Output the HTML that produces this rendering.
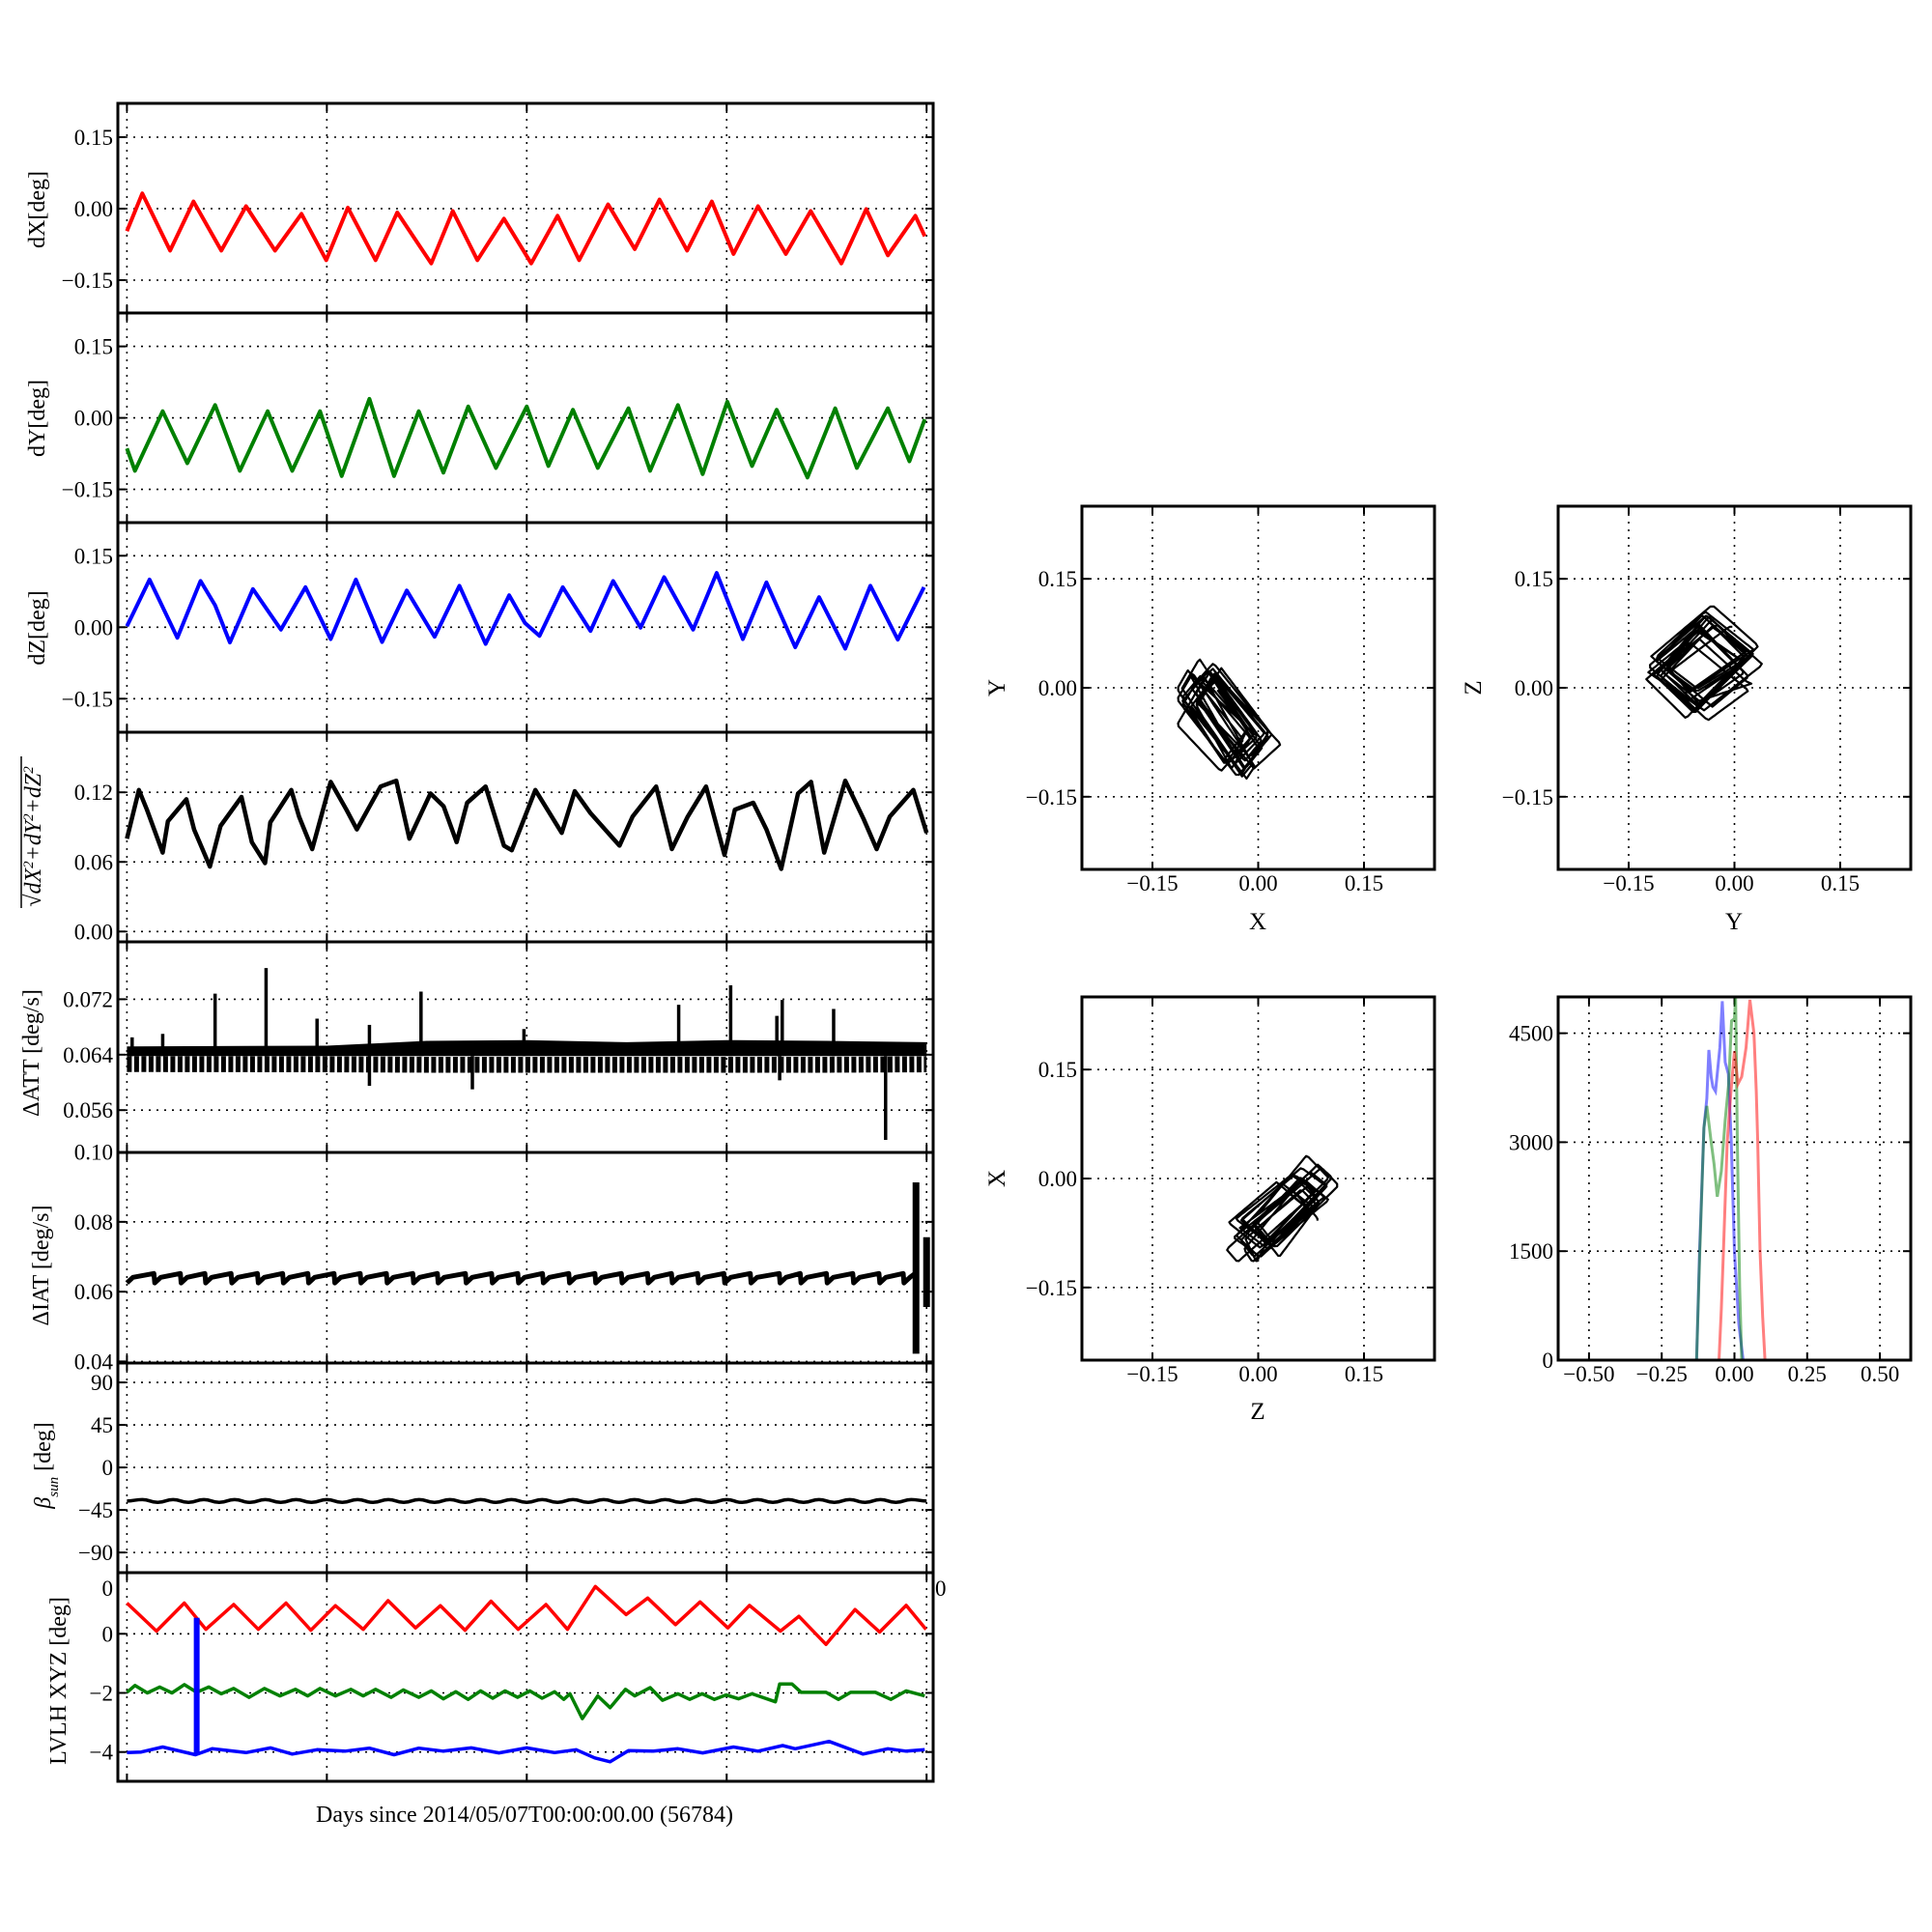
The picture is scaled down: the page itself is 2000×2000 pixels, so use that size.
<!DOCTYPE html>
<html><head><meta charset="utf-8"><style>
html,body{margin:0;padding:0;background:#fff}
svg{display:block}
text{font-family:"Liberation Serif",serif;fill:#000}
</style></head><body>
<svg id="fig" xmlns="http://www.w3.org/2000/svg" width="2000" height="2000" viewBox="0 0 2000 2000">
<rect width="2000" height="2000" fill="#fff"/>
</svg>
<script>
// ---------- DATA ----------
const dxT=[0,.077,.216,.333,.472,.596,.741,.873,.997,1.105,1.244,1.352,1.522,1.63,1.753,1.886,2.022,2.154,2.262,2.407,2.54,2.664,2.802,2.926,3.034,3.157,3.296,3.42,3.574,3.698,3.806,3.944,3.991];
const dxV=[-.047,.032,-.088,.015,-.088,.005,-.088,-.011,-.108,.002,-.108,-.008,-.115,-.005,-.108,-.021,-.115,-.015,-.108,.009,-.085,.019,-.088,.015,-.095,.005,-.095,-.005,-.115,-.001,-.098,-.015,-.058];
const dyT=[0,.04,.179,.302,.441,.565,.704,.827,.966,1.074,1.213,1.336,1.46,1.583,1.707,1.846,2.0,2.108,2.231,2.355,2.509,2.617,2.756,2.88,3.003,3.127,3.25,3.404,3.543,3.651,3.806,3.914,3.991];
const dyV=[-.064,-.111,.014,-.095,.027,-.111,.014,-.111,.014,-.122,.04,-.122,.014,-.115,.024,-.105,.024,-.101,.017,-.105,.02,-.111,.027,-.118,.034,-.101,.017,-.125,.02,-.105,.02,-.091,-.003];
const dzT=[0,.113,.252,.368,.441,.515,.63,.77,.893,1.019,1.145,1.276,1.4,1.539,1.663,1.794,1.912,1.991,2.064,2.18,2.319,2.432,2.569,2.687,2.832,2.95,3.081,3.199,3.343,3.462,3.593,3.719,3.856,3.987];
const dzV=[.002,.1,-.022,.097,.046,-.032,.08,-.005,.084,-.025,.1,-.031,.077,-.02,.087,-.035,.067,.009,-.018,.084,-.008,.097,-.001,.105,-.005,.114,-.025,.094,-.042,.063,-.045,.087,-.026,.084];
const magT=[0,.06,.1,.179,.205,.297,.336,.415,.468,.573,.625,.691,.717,.822,.861,.927,1.019,1.098,1.15,1.269,1.347,1.413,1.518,1.584,1.649,1.702,1.794,1.886,1.925,2.043,2.175,2.24,2.319,2.464,2.529,2.647,2.726,2.805,2.897,2.989,3.041,3.133,3.199,3.273,3.357,3.422,3.488,3.593,3.685,3.75,3.816,3.934,4.0];
const magV=[.08,.122,.105,.068,.095,.114,.088,.056,.091,.116,.077,.059,.094,.122,.099,.071,.129,.105,.088,.125,.13,.08,.119,.108,.077,.111,.125,.074,.07,.122,.085,.121,.102,.074,.099,.125,.071,.099,.125,.066,.105,.111,.088,.054,.119,.129,.068,.13,.097,.071,.099,.122,.085];
const attBandT=[0,1,1.5,2,2.5,3,3.5,4];
const attUpper=[.0652,.0653,.0660,.0661,.0658,.0661,.0660,.0658];
const attMid=[.0638,.0638,.0638,.0638,.0638,.0638,.0638,.0638];
const attLower=[.0615,.0614,.0613,.0613,.0613,.0613,.0613,.0614];
const attSpikeT=[.026,.179,.441,.696,.951,1.213,1.471,1.986,2.76,3.02,3.251,3.278,3.535,1.213,1.728,3.265,3.795];
const attSpikeV=[.0665,.067,.0728,.0765,.0692,.0683,.0731,.0677,.0712,.074,.0696,.0719,.0706,.0595,.059,.0603,.0517];
const iatTeeth=[0,.139,.271,.394,.525,.657,.783,.909,1.04,1.171,1.302,1.434,1.557,1.697,1.828,1.959,2.083,2.214,2.345,2.477,2.608,2.728,2.859,2.99,3.122,3.267,3.372,3.503,3.635,3.766,3.887];
const iatLo=[.0625];
const iatHi=[.0652];
const iatBurstT=[3.947,4.0];
const iatBurstMax=[.0913,.0756];
const iatBurstMin=[.0422,.0556];
const betaV=[-35.5,-34,-37,-34,-37,-34,-37,-34,-37,-34,-37,-34,-37,-34,-37,-34,-37,-34,-37,-34,-37,-34,-37,-34,-37,-34,-37,-34,-37,-34,-37,-34,-37,-34,-37,-34,-37,-34,-37,-34,-37,-34,-37,-34,-37,-34,-37,-34,-37,-34,-37,-34,-35.5];
const lvT_red=[0,.148,.287,.395,.534,.657,.796,.92,1.043,1.182,1.306,1.444,1.568,1.691,1.821,1.957,2.096,2.204,2.343,2.497,2.605,2.744,2.867,3.006,3.114,3.269,3.361,3.497,3.642,3.765,3.898,3.997];
const lvV_red=[1.04,.09,1.04,.15,.99,.15,1.04,.12,.95,.15,1.12,.2,.95,.12,1.1,.15,.99,.15,1.6,.65,1.21,.31,1.08,.2,.96,.09,.59,-.36,.82,.06,.96,.15];
const lvT_grn=[0,.04,.102,.164,.225,.287,.349,.41,.472,.534,.611,.688,.765,.843,.904,.966,1.043,1.12,1.182,1.244,1.321,1.383,1.46,1.522,1.583,1.645,1.707,1.769,1.83,1.892,1.954,2.015,2.077,2.139,2.185,2.216,2.278,2.355,2.417,2.494,2.54,2.617,2.679,2.756,2.815,2.877,2.938,2.997,3.059,3.127,3.244,3.265,3.327,3.373,3.497,3.559,3.62,3.744,3.821,3.898,3.991];
const lvV_grn=[-1.98,-1.75,-2,-1.8,-2,-1.72,-1.98,-1.8,-2.03,-1.85,-2.15,-1.85,-2.1,-1.88,-2.1,-1.85,-2.1,-1.88,-2.1,-1.88,-2.15,-1.9,-2.15,-1.93,-2.2,-1.96,-2.22,-1.93,-2.18,-1.93,-2.15,-1.93,-2.18,-1.96,-2.22,-2.03,-2.87,-2.1,-2.5,-1.88,-2.1,-1.82,-2.25,-2.03,-2.22,-2.03,-2.22,-2.07,-2.2,-2.03,-2.3,-1.7,-1.7,-1.98,-1.98,-2.22,-1.98,-1.98,-2.22,-1.93,-2.1];
const lvT_blu=[0,.071,.179,.343,.426,.596,.719,.827,.951,1.09,1.213,1.336,1.46,1.583,1.722,1.861,2.0,2.139,2.247,2.34,2.417,2.509,2.633,2.756,2.88,3.034,3.157,3.28,3.343,3.512,3.682,3.806,3.898,3.991];
const lvV_blu=[-4.02,-4,-3.83,-4.09,-3.89,-4.02,-3.86,-4.07,-3.92,-3.97,-3.87,-4.09,-3.87,-3.97,-3.86,-4.03,-3.86,-4.02,-3.92,-4.2,-4.33,-3.95,-3.97,-3.89,-4.03,-3.83,-3.97,-3.78,-3.89,-3.64,-4.07,-3.89,-3.97,-3.92];
const blueSpikeT=[.349];
const blueSpikeTop=[.54];
const histBlueX=[-.6,-.13,-.12,-.105,-.095,-.088,-.08,-.074,-.065,-.059,-.05,-.042,-.032,-.021,-.011,0,.015,.03,.6];
const histBlueC=[0,0,1500,3200,3600,4270,3900,3760,3700,3940,4300,4940,4100,3940,3000,1500,500,0,0];
const histGreenX=[-.6,-.13,-.12,-.105,-.095,-.08,-.07,-.059,-.045,-.032,-.02,-.01,0,.004,.01,.018,.025,.6];
const histGreenC=[0,0,1400,3200,3500,3000,2700,2250,2600,3300,3800,4670,4700,4990,3000,1000,0,0];
const histRedX=[-.6,-.053,-.045,-.038,-.025,-.012,0,.012,.025,.04,.053,.067,.075,.08,.088,.097,.105,.6];
const histRedC=[0,0,700,1500,3000,3700,4250,3800,3900,4300,4960,4500,3700,3000,1500,600,0,0];
const dayTicks=[0,1,2,3,4];
const scatTicks=[-0.15,0,0.15];
const scatTickLabels=["\u22120.15","0.00","0.15"];
const histXTicks=[-0.5,-0.25,0,0.25,0.5];
const histXLabels=["\u22120.50","\u22120.25","0.00","0.25","0.50"];
const histYTicks=[0,1500,3000,4500];
const histYLabels=["0","1500","3000","4500"];

// ---------- HELPERS ----------
const NS="http://www.w3.org/2000/svg";
const svg=document.getElementById('fig');
function mk(tag,attrs,parent){const e=document.createElementNS(NS,tag);for(const k in attrs)e.setAttribute(k,attrs[k]);(parent||svg).appendChild(e);return e;}
function interp(T,V,t){if(t<=T[0])return V[0];for(let i=1;i<T.length;i++){if(t<=T[i]){const f=(t-T[i-1])/(T[i]-T[i-1]);return V[i-1]+f*(V[i]-V[i-1]);}}return V[V.length-1];}
const XL=122,XR=966;
const tx=t=>131.4+t*206.95;
function ptsStr(T,V,ys){return T.map((t,i)=>tx(t).toFixed(1)+','+ys(V[i]).toFixed(1)).join(' ');}

const panels=[
 {name:'dx',top:107,bot:324,y0:216,ppu:493.3,v0:0,ticks:[.15,0,-.15],labels:["0.15","0.00","\u22120.15"]},
 {name:'dy',top:324,bot:541,y0:432.6,ppu:493.3,v0:0,ticks:[.15,0,-.15],labels:["0.15","0.00","\u22120.15"]},
 {name:'dz',top:541,bot:758,y0:649.3,ppu:493.3,v0:0,ticks:[.15,0,-.15],labels:["0.15","0.00","\u22120.15"]},
 {name:'mag',top:758,bot:975,y0:964.3,ppu:1200.8,v0:0,ticks:[.12,.06,0],labels:["0.12","0.06","0.00"]},
 {name:'att',top:975,bot:1193,y0:1091.8,ppu:7175,v0:.064,ticks:[.072,.064,.056],labels:["0.072","0.064","0.056"]},
 {name:'iat',top:1193,bot:1411,y0:1192.6,ppu:3613,v0:.10,ticks:[.10,.08,.06,.04],labels:["0.10","0.08","0.06","0.04"]},
 {name:'beta',top:1411,bot:1628,y0:1519.1,ppu:0.978,v0:0,ticks:[90,45,0,-45,-90],labels:["90","45","0","\u221245","\u221290"]},
 {name:'lvlh',top:1628,bot:1844,y0:1691.3,ppu:30.6,v0:0,ticks:[0,-2,-4],labels:["0","\u22122","\u22124"]}
];
panels.forEach(p=>{p.y=v=>p.y0-(v-p.v0)*p.ppu;});

function drawPanelFrame(p){
 const g=mk('g',{});
 
 
 mk('clipPath',{id:'clip-'+p.name},g);
 mk('rect',{x:XL,y:p.top,width:XR-XL,height:p.bot-p.top},g.lastChild);
 dayTicks.forEach(d=>{const x=tx(d);
  const gl=mk('line',{x1:x,x2:x,y1:p.top,y2:p.bot,stroke:'#000','stroke-width':1.6,'stroke-dasharray':'2,6'},g);
  
  mk('line',{x1:x,x2:x,y1:p.top,y2:p.top+8,stroke:'#000','stroke-width':2},g);
  mk('line',{x1:x,x2:x,y1:p.bot,y2:p.bot-8,stroke:'#000','stroke-width':2},g);
 });
 p.ticks.forEach((v,i)=>{const y=p.y(v);
  const gl=mk('line',{x1:XL,x2:XR,y1:y,y2:y,stroke:'#000','stroke-width':1.6,'stroke-dasharray':'2,6'},g);
  
  mk('line',{x1:XL,x2:XL+8,y1:y,y2:y,stroke:'#000','stroke-width':2},g);
  mk('line',{x1:XR,x2:XR-8,y1:y,y2:y,stroke:'#000','stroke-width':2},g);
  const t=mk('text',{x:117,y:y+8,'text-anchor':'end','font-size':23},g);
  t.textContent=p.labels[i];
  
 });
 return g;
}
function drawFrameRect(p){const r=mk('rect',{x:XL,y:p.top,width:XR-XL,height:p.bot-p.top,fill:'none',stroke:'#000','stroke-width':3});
 }
function series(p,T,V,color,w,name){
 const pl=mk('polyline',{points:ptsStr(T,V,p.y),fill:'none',stroke:color,'stroke-width':w,'stroke-linejoin':'round','clip-path':'url(#clip-'+p.name+')'});
 return pl;
}

panels.forEach(drawPanelFrame);

series(panels[0],dxT,dxV,'#ff0000',4,'dx-line');
series(panels[1],dyT,dyV,'#008000',4,'dy-line');
series(panels[2],dzT,dzV,'#0000ff',4,'dz-line');
series(panels[3],magT,magV,'#000',4.5,'magnitude-line');
// ATT band + comb + spikes
(function(){const p=panels[4];
 const up=attBandT.map((t,i)=>tx(t).toFixed(1)+','+p.y(attUpper[i]).toFixed(1));
 const mid=attBandT.map((t,i)=>tx(t).toFixed(1)+','+p.y(attMid[i]).toFixed(1)).reverse();
 const poly=mk('polygon',{points:up.concat(mid).join(' '),fill:'#000'});
 
 const combY=attBandT.map((t,i)=>(attMid[i]+attLower[i])/2);
 const combW=p.ppu*(attMid[0]-attLower[0]);
 const comb=mk('polyline',{points:ptsStr(attBandT,combY,p.y),fill:'none',stroke:'#000','stroke-width':combW,'stroke-dasharray':'5,2.5'});
 
 attSpikeT.forEach((t,i)=>{const x=tx(t);
  const l=mk('line',{x1:x,x2:x,y1:p.y(.0638),y2:p.y(attSpikeV[i]),stroke:'#000','stroke-width':3.5});
  });
})();
// IAT sawtooth
(function(){const p=panels[5];const T=[],V=[];
 for(let i=0;i<iatTeeth.length;i++){const t0=iatTeeth[i];const t1=(i+1<iatTeeth.length)?iatTeeth[i+1]:iatBurstT[0];
  T.push(t0);V.push(iatLo[0]);T.push(t0+0.03);V.push(iatLo[0]+0.0016);T.push(t1-0.004);V.push(iatHi[0]);}
 series(p,T,V,'#000',5,'diat-line');
 iatBurstT.forEach((t,i)=>{const x=tx(t);
  const l=mk('line',{x1:x,x2:x,y1:p.y(iatBurstMin[i]),y2:p.y(iatBurstMax[i]),stroke:'#000','stroke-width':7});
  });
})();
// beta
(function(){const p=panels[6];const T=betaV.map((v,i)=>i*4/(betaV.length-1));
 const pl=mk('path',{fill:'none',stroke:'#000','stroke-width':3.5,d:(function(){let d='M'+tx(T[0])+','+p.y(betaV[0]);for(let i=1;i<T.length;i++){const xm=(tx(T[i-1])+tx(T[i]))/2;d+=' C'+xm+','+p.y(betaV[i-1])+' '+xm+','+p.y(betaV[i])+' '+tx(T[i])+','+p.y(betaV[i]);}return d;})()});
 
})();
// LVLH
(function(){const p=panels[7];
 series(p,lvT_red,lvV_red,'#ff0000',3.5,'lvlh-x-line');
 series(p,lvT_grn,lvV_grn,'#008000',3.5,'lvlh-y-line');
 series(p,lvT_blu,lvV_blu,'#0000ff',3.5,'lvlh-z-line');
 blueSpikeT.forEach((t,i)=>{const x=tx(t);
  const l=mk('line',{x1:x,x2:x,y1:p.y(interp(lvT_blu,lvV_blu,t)),y2:p.y(blueSpikeTop[i]),stroke:'#0000ff','stroke-width':6});
  });
 const a=mk('text',{x:117,y:1652,'text-anchor':'end','font-size':23});a.textContent='0';
 
 const b=mk('text',{x:968,y:1652,'font-size':23});b.textContent='0';
 
})();
panels.forEach(drawFrameRect);

function rotLabel(x,y,txt,name,size){const t=mk('text',{x:x,y:y,'text-anchor':'middle','font-size':size||24,transform:'rotate(-90 '+x+' '+y+')'});
 if(typeof txt==='string')t.textContent=txt;else txt(t);
 return t;}
rotLabel(46,217,'dX[deg]','dx-axis-title');
rotLabel(46,433,'dY[deg]','dy-axis-title');
rotLabel(46,650,'dZ[deg]','dz-axis-title');
rotLabel(42,866,t=>{t.setAttribute('font-style','italic');
 const parts=[['√',''],['dX',''],['2','s'],['+dY',''],['2','s'],['+dZ',''],['2','s']];
 parts.forEach(([s,k])=>{const ts=document.createElementNS(NS,'tspan');ts.textContent=s;
  if(k==='s'){ts.setAttribute('baseline-shift','super');ts.setAttribute('font-size','15');}t.appendChild(ts);});
},'magnitude-axis-title',24);
mk('line',{x1:22,x2:22,y1:783,y2:940,stroke:'#000','stroke-width':1.5});
rotLabel(40,1090,'ΔATT [deg/s]','datt-axis-title');
rotLabel(50,1310,'ΔIAT [deg/s]','diat-axis-title');
rotLabel(52,1517,t=>{const a=document.createElementNS(NS,'tspan');a.setAttribute('font-style','italic');a.textContent='β';t.appendChild(a);
 const b=document.createElementNS(NS,'tspan');b.setAttribute('font-style','italic');b.setAttribute('font-size','15');b.setAttribute('baseline-shift','sub');b.textContent='sun';t.appendChild(b);
 const c=document.createElementNS(NS,'tspan');c.textContent=' [deg]';t.appendChild(c);},'beta-axis-title');
rotLabel(68,1740,'LVLH XYZ [deg]','lvlh-axis-title');
const xl=mk('text',{x:543,y:1886,'text-anchor':'middle','font-size':24});xl.textContent='Days since 2014/05/07T00:00:00.00 (56784)';


// ---------- RIGHT PANELS ----------
function box(x0,y0,x1,y1,xmin,xmax,ymin,ymax,name,xt,xtl,yt,ytl){
 const g=mk('g',{});
 const sx=v=>x0+(v-xmin)/(xmax-xmin)*(x1-x0), sy=v=>y1-(v-ymin)/(ymax-ymin)*(y1-y0);
 mk('clipPath',{id:'clip-'+name},g);mk('rect',{x:x0,y:y0,width:x1-x0,height:y1-y0},g.lastChild);
 xt.forEach((v,i)=>{const x=sx(v);
  const gl=mk('line',{x1:x,x2:x,y1:y0,y2:y1,stroke:'#000','stroke-width':1.6,'stroke-dasharray':'2,6'},g);
  
  mk('line',{x1:x,x2:x,y1:y0,y2:y0+8,stroke:'#000','stroke-width':2},g);mk('line',{x1:x,x2:x,y1:y1,y2:y1-8,stroke:'#000','stroke-width':2},g);
  const t=mk('text',{x:x,y:y1+22,'text-anchor':'middle','font-size':23},g);t.textContent=xtl[i];
  });
 yt.forEach((v,i)=>{const y=sy(v);
  const gl=mk('line',{x1:x0,x2:x1,y1:y,y2:y,stroke:'#000','stroke-width':1.6,'stroke-dasharray':'2,6'},g);
  
  mk('line',{x1:x0,x2:x0+8,y1:y,y2:y,stroke:'#000','stroke-width':2},g);mk('line',{x1:x1,x2:x1-8,y1:y,y2:y,stroke:'#000','stroke-width':2},g);
  const t=mk('text',{x:x0-5,y:y+8,'text-anchor':'end','font-size':23},g);t.textContent=ytl[i];
  });
 return {g,sx,sy,frame:()=>{const r=mk('rect',{x:x0,y:y0,width:x1-x0,height:y1-y0,fill:'none',stroke:'#000','stroke-width':3});}};
}
function scatter(b,A,B,name){let pts=[];for(let t=0;t<=4;t+=0.004){pts.push(b.sx(A(t)).toFixed(1)+','+b.sy(B(t)).toFixed(1));}
 const pl=mk('polyline',{points:pts.join(' '),fill:'none',stroke:'#000','stroke-width':2.2,'stroke-linejoin':'round'});
 }
const fX=t=>interp(dxT,dxV,t),fY=t=>interp(dyT,dyV,t),fZ=t=>interp(dzT,dzV,t);
const bXY=box(1120,524,1485,900,-.25,.25,-.25,.25,'xy-scatter',scatTicks,scatTickLabels,scatTicks,scatTickLabels);
scatter(bXY,fX,fY,'xy-trace');bXY.frame();
const bYZ=box(1613,524,1978,900,-.25,.25,-.25,.25,'yz-scatter',scatTicks,scatTickLabels,scatTicks,scatTickLabels);
scatter(bYZ,fY,fZ,'yz-trace');bYZ.frame();
const bZX=box(1120,1032,1485,1408,-.25,.25,-.25,.25,'zx-scatter',scatTicks,scatTickLabels,scatTicks,scatTickLabels);
scatter(bZX,fZ,fX,'zx-trace');bZX.frame();
const bH=box(1613,1032,1978,1408,-.606,.606,0,5000,'histogram',histXTicks,histXLabels,histYTicks,histYLabels);
[[histBlueX,histBlueC,'#0000ff','hist-blue'],[histGreenX,histGreenC,'#008000','hist-green'],[histRedX,histRedC,'#ff0000','hist-red']].forEach(([X,C,col,nm])=>{
 const pl=mk('polyline',{points:X.map((x,i)=>bH.sx(x).toFixed(1)+','+bH.sy(C[i]).toFixed(1)).join(' '),fill:'none',stroke:col,'stroke-opacity':.5,'stroke-width':3});
 });
bH.frame();
function plainLabel(x,y,s,name,rot){const t=mk('text',{x:x,y:y,'text-anchor':'middle','font-size':25});if(rot)t.setAttribute('transform','rotate(-90 '+x+' '+(y-8)+')');t.textContent=s;
 }
plainLabel(1302,962,'X','xy-x-title');plainLabel(1032,720,'Y','xy-y-title',true);
plainLabel(1795,962,'Y','yz-x-title');plainLabel(1525,720,'Z','yz-y-title',true);
plainLabel(1302,1469,'Z','zx-x-title');plainLabel(1032,1228,'X','zx-y-title',true);
</script>
</body></html>
